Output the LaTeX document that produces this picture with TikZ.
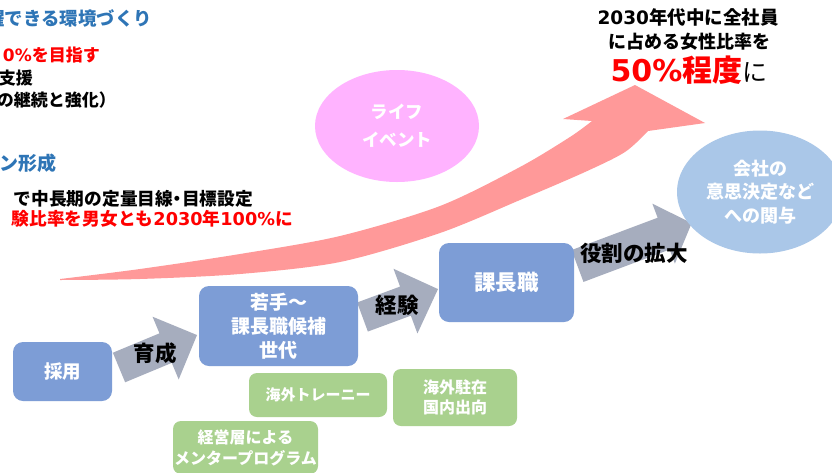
\documentclass[tikz,border=0pt]{standalone}
\usepackage{fontspec}
\setmainfont{Noto Sans CJK JP}
\newfontfamily\dvfont{DejaVu Sans}
\usetikzlibrary{shapes.geometric}
\newcommand\lat[1]{{\dvfont #1}}
\newcommand\fsz[2]{\fontsize{#1}{#2}\selectfont}
\newcommand\halfdot{{\addfontfeature{CharacterWidth=AlternateHalf}・}}
\definecolor{boxblue}{RGB}{125,157,214}
\definecolor{boxgreen}{RGB}{169,209,142}
\definecolor{ellblue}{RGB}{170,199,232}
\definecolor{ellpink}{RGB}{255,179,255}
\definecolor{arrred}{RGB}{255,153,153}
\definecolor{arrgray}{RGB}{166,173,190}
\definecolor{headblue}{RGB}{46,117,182}
\definecolor{txtred}{RGB}{255,0,0}
\begin{document}
\begin{tikzpicture}[x=1pt,y=-1pt,
  bluebox/.style={fill=boxblue, rounded corners=10pt, text=white, align=center, inner sep=0pt, font=\bfseries},
  greenbox/.style={fill=boxgreen, rounded corners=8pt, text=white, align=center, inner sep=0pt, font=\bfseries},
  bubble/.style={ellipse, inner sep=0pt, text=white, align=center, font=\bfseries},
  arrowlabel/.style={inner sep=0pt, text=black, font=\bfseries\fsz{21.5}{26}},
  lefttext/.style={anchor=east, inner sep=0pt, font=\bfseries},
  goaltext/.style={inner sep=0pt, text=black, font=\bfseries},
  grayfill/.style={fill=arrgray},
  redfill/.style={fill=arrred}]
\useasboundingbox (0,0) rectangle (832,472);
\fill[white] (0,0) rectangle (832,472);
\clip (0,0) rectangle (832,472);

% ---- top-left texts (cut at the left edge)
\node[lefttext, text=headblue, font=\bfseries\fsz{18.4}{22}] (h1) at (152,18) {躍できる環境づくり};
\node[lefttext, text=txtred, font=\bfseries\fsz{17}{20}] (h2) at (100,55) {\lat{0\%}を目指す};
\node[lefttext, text=black, font=\bfseries\fsz{17}{20}] (h3) at (33,78) {支援};
\node[lefttext, text=black, font=\bfseries\fsz{17}{20}] (h4) at (116,100) {の継続と強化）};
\node[lefttext, text=headblue, font=\bfseries\fsz{19}{22}] (h5) at (57,163) {ン形成};
\node[lefttext, text=black, font=\bfseries\fsz{17.7}{21}] (h6) at (253,199) {で中長期の定量目線\halfdot 目標設定};
\node[lefttext, text=txtred, font=\bfseries\fsz{17.7}{21}] (h7) at (293,219) {験比率を男女とも\lat{2030}年\lat{100\%}に};

% ---- big red curved arrow
\fill[redfill]
  plot[smooth] coordinates {(60,280) (140,279) (240,274) (340,262) (440,233) (520,200) (585,172) (625,152) (648,131)}
  -- (705,123) -- (635,85) -- (563,119) --
  plot[smooth] coordinates {(592,121) (570,137) (520,167) (440,206) (340,236) (240,254) (140,269) (60,279)}
  -- cycle;

% ---- goal text
\node[goaltext, font=\bfseries\fsz{18.5}{22}] (g1) at (688,17) {\lat{2030}年代中に全社員};
\node[goaltext, font=\bfseries\fsz{18}{22}] (g2) at (689,42) {に占める女性比率を};
\node[goaltext] (g3) at (689,70) {\textcolor{txtred}{\fsz{30}{34}\lat{50\%}程度}{\mdseries\fsz{25}{30}に}};

% ---- gray block arrows
\coordinate (a1) at (119,367.5);
\coordinate (a2) at (362.5,317);
\coordinate (a3) at (577.5,266);
\begin{scope}[shift={(a1)}, rotate=22.6]
  \fill[grayfill] (0,-16) -- (50.5,-16) -- (50.5,-34) -- (84.5,0) -- (50.5,34) -- (50.5,16) -- (0,16) -- cycle;
\end{scope}
\begin{scope}[shift={(a2)}, rotate=20.3]
  \fill[grayfill] (0,-15.5) -- (45.8,-15.5) -- (45.8,-34.5) -- (80.5,0) -- (45.8,34.5) -- (45.8,15.5) -- (0,15.5) -- cycle;
\end{scope}
\begin{scope}[shift={(a3)}, rotate=20.6]
  \fill[grayfill] (0,-17) -- (92,-17) -- (92,-32) -- (122,0) -- (92,32) -- (92,17) -- (0,17) -- cycle;
\end{scope}

% ---- blue boxes
\node[bluebox, minimum width=99pt, minimum height=59pt, font=\bfseries\fsz{18.5}{22}] (saiyo) at (62.5,371.5) {採用};
\node[bluebox, minimum width=159pt, minimum height=80pt, font=\bfseries\fsz{19}{24}] (wakate) at (278.5,326) {若手～\\課長職候補\\世代};
\node[bluebox, minimum width=135pt, minimum height=79pt, font=\bfseries\fsz{21.5}{26}] (kacho) at (506.5,282.5) {課長職};

% ---- green boxes
\node[greenbox, minimum width=138pt, minimum height=44pt, font=\bfseries\fsz{15}{19}] (trainee) at (318,395) {海外トレーニー};
\node[greenbox, minimum width=124pt, minimum height=57pt, font=\bfseries\fsz{16}{20}] (chuzai) at (455,397.5) {海外駐在\\国内出向};
\node[greenbox, minimum width=145pt, minimum height=53pt, font=\bfseries\fsz{16}{21}] (mentor) at (245.5,447.5) {経営層による\\メンタープログラム};

% ---- ellipses
\node[bubble, fill=ellpink, minimum width=164pt, minimum height=112pt, font=\bfseries\fsz{17.5}{28}] (life) at (397,126) {ライフ\\イベント};
\node[bubble, fill=ellblue, minimum width=166pt, minimum height=123pt, font=\bfseries\fsz{18}{23.5}] (kaisha) at (760,192) {会社の\\意思決定など\\への関与};

% ---- arrow labels
\node[arrowlabel] (l1) at (155,353) {育成};
\node[arrowlabel] (l2) at (397,305) {経験};
\node[arrowlabel] (l3) at (634,253) {役割の拡大};
\end{tikzpicture}
\end{document}
